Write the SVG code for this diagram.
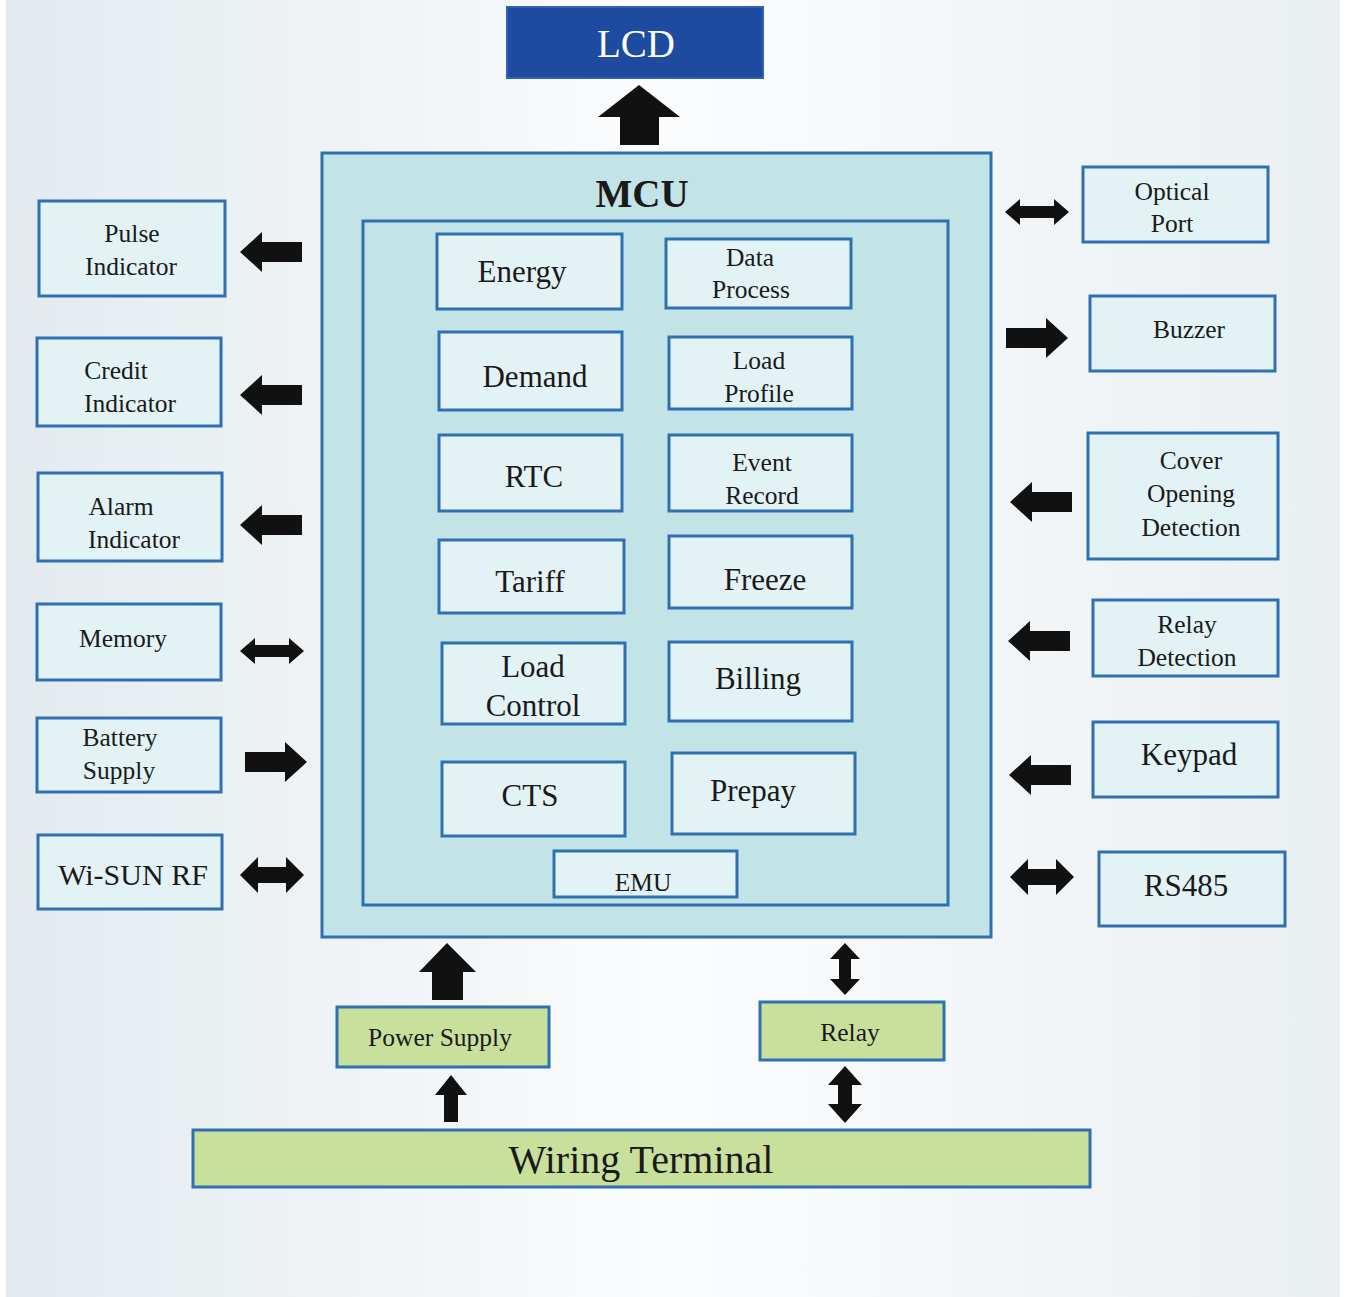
<svg xmlns="http://www.w3.org/2000/svg" xmlns:xlink="http://www.w3.org/1999/xlink" width="1345" height="1297" viewBox="0 0 1345 1297">
<style>
.box{fill:#e3f2f4;stroke:#2f70b2;stroke-width:3}
.mcu{fill:#c3e4e6;stroke:#2f70b2;stroke-width:3}
.grn{fill:#c9e09d;stroke:#2f70b2;stroke-width:3}
.t{font-family:"Liberation Serif","Times New Roman",serif;fill:#1a1a1a;text-anchor:middle}
.s{font-size:25.5px}
.m{font-size:31px}
.arr{fill:#111}
</style>
<defs>
<linearGradient id="bg" x1="0" y1="0" x2="1" y2="0">
<stop offset="0" stop-color="#e3eaee"/>
<stop offset="0.5" stop-color="#fbfcfd"/>
<stop offset="1" stop-color="#eaeff2"/>
</linearGradient>
<path id="aL" d="M0,0 L22,-20 L22,-10 L62,-10 L62,10 L22,10 L22,20 Z"/>
<path id="aR" d="M0,0 L-22,-20 L-22,-10 L-62,-10 L-62,10 L-22,10 L-22,20 Z"/>
<path id="dT" d="M0,0 L15,-13 L15,-6 L49,-6 L49,-13 L64,0 L49,13 L49,6 L15,6 L15,13 Z"/>
<path id="dW" d="M0,0 L18,-18 L18,-8 L46,-8 L46,-18 L64,0 L46,18 L46,8 L18,8 L18,18 Z"/>
<path id="dV" d="M0,0 L15,16 L6,16 L6,36 L15,36 L0,52 L-15,36 L-6,36 L-6,16 L-15,16 Z"/>
</defs>
<rect x="0" y="0" width="1345" height="1297" fill="#ffffff"/>
<rect x="6" y="0" width="1334" height="1297" fill="url(#bg)"/>

<g id="LCD">
<rect x="507" y="7" width="256" height="71" fill="#1c4b9f" stroke="#2d62b8" stroke-width="2"/>
<text class="t" x="636" y="57" font-size="39" style="fill:#ffffff">LCD</text>
</g>

<g id="MCU">
<rect class="mcu" x="322" y="153" width="669" height="784"/>
<text class="t" x="642" y="207" font-size="39" font-weight="bold">MCU</text>
<rect class="mcu" x="363" y="221" width="585" height="684"/>
</g>

<g id="Energy"><rect class="box" x="437" y="234" width="185" height="75"/><text class="t m" x="522" y="282">Energy</text></g>
<g id="DataProcess"><rect class="box" x="666" y="239" width="185" height="69"/><text class="t s" x="750" y="266">Data</text><text class="t s" x="751" y="298">Process</text></g>
<g id="Demand"><rect class="box" x="439" y="332" width="183" height="78"/><text class="t m" x="535" y="387">Demand</text></g>
<g id="LoadProfile"><rect class="box" x="669" y="337" width="183" height="72"/><text class="t s" x="759" y="369">Load</text><text class="t s" x="759" y="402">Profile</text></g>
<g id="RTC"><rect class="box" x="439" y="435" width="183" height="76"/><text class="t m" x="534" y="487">RTC</text></g>
<g id="EventRecord"><rect class="box" x="669" y="435" width="183" height="76"/><text class="t s" x="762" y="471">Event</text><text class="t s" x="762" y="504">Record</text></g>
<g id="Tariff"><rect class="box" x="439" y="540" width="185" height="73"/><text class="t m" x="530" y="592">Tariff</text></g>
<g id="Freeze"><rect class="box" x="669" y="536" width="183" height="72"/><text class="t m" x="765" y="590">Freeze</text></g>
<g id="LoadControl"><rect class="box" x="442" y="643" width="183" height="81"/><text class="t m" x="533" y="677">Load</text><text class="t m" x="533" y="716">Control</text></g>
<g id="Billing"><rect class="box" x="669" y="642" width="183" height="79"/><text class="t m" x="758" y="689">Billing</text></g>
<g id="CTS"><rect class="box" x="442" y="762" width="183" height="74"/><text class="t m" x="530" y="806">CTS</text></g>
<g id="Prepay"><rect class="box" x="672" y="753" width="183" height="81"/><text class="t m" x="753" y="801">Prepay</text></g>
<g id="EMU"><rect class="box" x="554" y="851" width="183" height="46"/><text class="t s" x="643" y="891">EMU</text></g>

<g id="PulseIndicator"><rect class="box" x="39" y="201" width="186" height="95"/><text class="t s" x="132" y="242">Pulse</text><text class="t s" x="131" y="275">Indicator</text></g>
<g id="CreditIndicator"><rect class="box" x="37" y="338" width="184" height="88"/><text class="t s" x="116" y="379">Credit</text><text class="t s" x="130" y="412">Indicator</text></g>
<g id="AlarmIndicator"><rect class="box" x="38" y="473" width="184" height="88"/><text class="t s" x="121" y="515">Alarm</text><text class="t s" x="134" y="548">Indicator</text></g>
<g id="Memory"><rect class="box" x="37" y="604" width="184" height="76"/><text class="t s" x="123" y="647">Memory</text></g>
<g id="BatterySupply"><rect class="box" x="37" y="718" width="184" height="74"/><text class="t s" x="120" y="746">Battery</text><text class="t s" x="119" y="779">Supply</text></g>
<g id="WiSUNRF"><rect class="box" x="38" y="835" width="184" height="74"/><text class="t" x="133" y="885" font-size="30">Wi-SUN RF</text></g>

<g id="OpticalPort"><rect class="box" x="1083" y="167" width="185" height="75"/><text class="t s" x="1172" y="200">Optical</text><text class="t s" x="1172" y="232">Port</text></g>
<g id="Buzzer"><rect class="box" x="1090" y="296" width="185" height="75"/><text class="t s" x="1189" y="338">Buzzer</text></g>
<g id="CoverOpeningDetection"><rect class="box" x="1088" y="433" width="190" height="126"/><text class="t s" x="1191" y="469">Cover</text><text class="t s" x="1191" y="502">Opening</text><text class="t s" x="1191" y="536">Detection</text></g>
<g id="RelayDetection"><rect class="box" x="1093" y="600" width="185" height="76"/><text class="t s" x="1187" y="633">Relay</text><text class="t s" x="1187" y="666">Detection</text></g>
<g id="Keypad"><rect class="box" x="1093" y="722" width="185" height="75"/><text class="t m" x="1189" y="765">Keypad</text></g>
<g id="RS485"><rect class="box" x="1099" y="852" width="186" height="74"/><text class="t m" x="1186" y="896">RS485</text></g>

<g id="PowerSupply"><rect class="grn" x="337" y="1007" width="212" height="60"/><text class="t s" x="440" y="1046">Power Supply</text></g>
<g id="Relay"><rect class="grn" x="760" y="1002" width="184" height="58"/><text class="t s" x="850" y="1041">Relay</text></g>
<g id="WiringTerminal"><rect class="grn" x="193" y="1130" width="897" height="57"/><text class="t" x="641" y="1173" font-size="40">Wiring Terminal</text></g>

<g id="connectors" class="arr">
<path d="M639,85 L680,117 L659,117 L659,145 L620,145 L620,117 L598,117 Z"/>
<use xlink:href="#aL" x="240" y="252"/>
<use xlink:href="#aL" x="240" y="395"/>
<use xlink:href="#aL" x="240" y="525"/>
<use xlink:href="#dT" x="240" y="651"/>
<use xlink:href="#aR" x="307" y="762"/>
<use xlink:href="#dW" x="240" y="875"/>
<use xlink:href="#dT" x="1005" y="212"/>
<use xlink:href="#aR" x="1068" y="338"/>
<use xlink:href="#aL" x="1010" y="502"/>
<use xlink:href="#aL" x="1008" y="641"/>
<use xlink:href="#aL" x="1009" y="775"/>
<use xlink:href="#dW" x="1010" y="877"/>
<path d="M447,943 L476,972 L463,972 L463,1000 L432,1000 L432,972 L419,972 Z"/>
<path d="M451,1075 L467,1095 L458,1095 L458,1122 L444,1122 L444,1095 L435,1095 Z"/>
<use xlink:href="#dV" x="845" y="943"/>
<path d="M845,1066 L862,1085 L852,1085 L852,1104 L862,1104 L845,1123 L828,1104 L838,1104 L838,1085 L828,1085 Z"/>
</g>
</svg>
